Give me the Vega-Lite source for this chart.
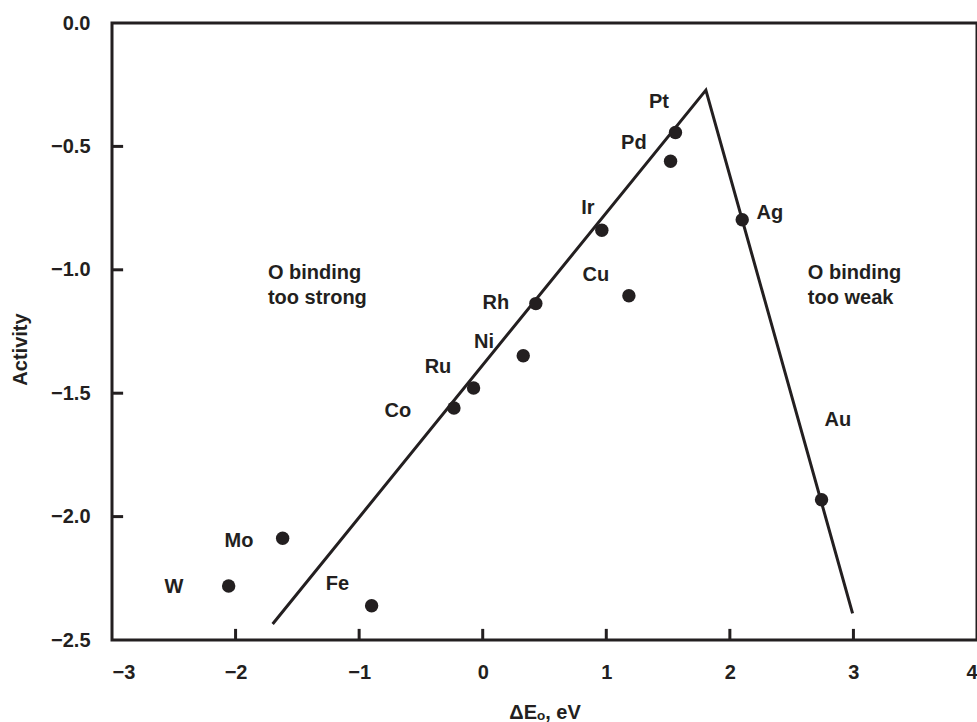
{
  "$schema": "https://vega.github.io/schema/vega-lite/v6.json",
  "width": 865,
  "height": 617,
  "autosize": "none",
  "padding": {"left": 112, "top": 23, "right": 0, "bottom": 82},
  "background": "white",
  "config": {
    "view": {"stroke": "#231f20", "strokeWidth": 3},
    "axis": {
      "grid": false,
      "domain": false,
      "ticks": false,
      "labelFont": "Liberation Sans",
      "labelFontWeight": "bold",
      "labelFontSize": 20,
      "labelColor": "#231f20",
      "titleFont": "Liberation Sans",
      "titleFontWeight": "bold",
      "titleFontSize": 20,
      "titleColor": "#231f20"
    },
    "text": {"font": "Liberation Sans", "fontWeight": "bold", "fontSize": 20, "fill": "#231f20"}
  },
  "datasets": {
    "pts": [
      {"el": "Pt", "x": 1.56, "y": -0.444},
      {"el": "Pd", "x": 1.52, "y": -0.56},
      {"el": "Ir", "x": 0.964, "y": -0.84},
      {"el": "Ag", "x": 2.1, "y": -0.797},
      {"el": "Cu", "x": 1.183, "y": -1.105},
      {"el": "Rh", "x": 0.43, "y": -1.137},
      {"el": "Ni", "x": 0.328, "y": -1.348},
      {"el": "Ru", "x": -0.074, "y": -1.479},
      {"el": "Co", "x": -0.233, "y": -1.56},
      {"el": "Mo", "x": -1.619, "y": -2.088},
      {"el": "W", "x": -2.056, "y": -2.281},
      {"el": "Fe", "x": -0.899, "y": -2.361},
      {"el": "Au", "x": 2.742, "y": -1.932}
    ],
    "labels": [
      {"t": "Pt", "x": 1.426, "y": -0.322},
      {"t": "Pd", "x": 1.223, "y": -0.485},
      {"t": "Ir", "x": 0.851, "y": -0.748},
      {"t": "Ag", "x": 2.324, "y": -0.768},
      {"t": "Cu", "x": 0.916, "y": -1.02},
      {"t": "Rh", "x": 0.107, "y": -1.135},
      {"t": "Ni", "x": 0.01, "y": -1.294},
      {"t": "Ru", "x": -0.362, "y": -1.392},
      {"t": "Co", "x": -0.686, "y": -1.573},
      {"t": "Mo", "x": -1.973, "y": -2.097},
      {"t": "W", "x": -2.498, "y": -2.286},
      {"t": "Fe", "x": -1.176, "y": -2.273},
      {"t": "Au", "x": 2.874, "y": -1.608}
    ],
    "notes": [
      {"t": "O binding", "x": -1.738, "y": -1.012},
      {"t": "too strong", "x": -1.738, "y": -1.113},
      {"t": "O binding", "x": 2.631, "y": -1.012},
      {"t": "too weak", "x": 2.631, "y": -1.113}
    ],
    "volcano": [
      {"x": -1.7, "y": -2.435},
      {"x": 1.806, "y": -0.272},
      {"x": 2.993, "y": -2.392}
    ],
    "xticks": [{"v": -2}, {"v": -1}, {"v": 0}, {"v": 1}, {"v": 2}, {"v": 3}],
    "yticks": [{"v": -2}, {"v": -1.5}, {"v": -1}, {"v": -0.5}]
  },
  "layer": [
    {
      "data": {"name": "volcano"},
      "mark": {"type": "line", "color": "#231f20", "strokeWidth": 3, "strokeJoin": "miter", "clip": true},
      "encoding": {
        "x": {"field": "x", "type": "quantitative", "scale": {"domain": [-3, 4], "nice": false, "zero": false},
          "axis": {"values": [-3, -2, -1, 0, 1, 2, 3, 4], "format": "d", "title": "ΔEₒ, eV", "labelPadding": 22, "titleY": 62}},
        "y": {"field": "y", "type": "quantitative", "scale": {"domain": [-2.5, 0], "nice": false, "zero": false},
          "axis": {"values": [-2.5, -2, -1.5, -1, -0.5, 0], "format": ".1f", "title": "Activity", "labelPadding": 22, "titleX": -82, "titleY": 326}},
        "order": {"field": "x", "type": "quantitative"}
      }
    },
    {
      "data": {"name": "xticks"},
      "mark": {"type": "rule", "color": "#231f20", "strokeWidth": 3, "opacity": 1},
      "encoding": {
        "x": {"field": "v", "type": "quantitative"},
        "y": {"datum": -2.5, "type": "quantitative"},
        "y2": {"datum": -2.455}
      }
    },
    {
      "data": {"name": "yticks"},
      "mark": {"type": "rule", "color": "#231f20", "strokeWidth": 3, "opacity": 1},
      "encoding": {
        "y": {"field": "v", "type": "quantitative"},
        "x": {"datum": -3, "type": "quantitative"},
        "x2": {"datum": -2.91}
      }
    },
    {
      "data": {"name": "pts"},
      "mark": {"type": "point", "filled": true, "size": 180, "color": "#231f20", "opacity": 1},
      "encoding": {
        "x": {"field": "x", "type": "quantitative"},
        "y": {"field": "y", "type": "quantitative"}
      }
    },
    {
      "data": {"name": "labels"},
      "mark": {"type": "text", "baseline": "middle", "align": "center"},
      "encoding": {
        "x": {"field": "x", "type": "quantitative"},
        "y": {"field": "y", "type": "quantitative"},
        "text": {"field": "t", "type": "nominal"}
      }
    },
    {
      "data": {"name": "notes"},
      "mark": {"type": "text", "baseline": "middle", "align": "left"},
      "encoding": {
        "x": {"field": "x", "type": "quantitative"},
        "y": {"field": "y", "type": "quantitative"},
        "text": {"field": "t", "type": "nominal"}
      }
    }
  ]
}
